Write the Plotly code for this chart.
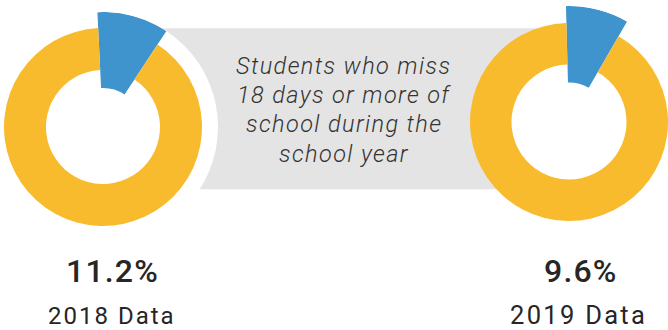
import math
import plotly.graph_objects as go

# ---- data ----
years = ["2018", "2019"]
pct_missing = [11.2, 9.6]
rest_values = [100, 100]
value_labels = ["11.2%", "9.6%"]
year_labels = ["2018 Data", "2019 Data"]
center_lines = ["Students who miss", "18 days or more of",
                "school during the", "school year"]

# ---- style ----
W, H = 668, 330
YELLOW = "#F9BB2E"
BLUE = "#4094CE"
GRAY = "#E4E4E4"
TXT = "#262626"
start_rot = [-2.8, -1.5]  # degrees from 12 o'clock


def px_x(x):
    return x / W


def px_y(y):
    return (H - y) / H


# donut geometry in pixels
donuts = [
    dict(cx=103, cy=127, r=99, rin=57, rb=115, sector=[0, 100]),
    dict(cx=569, cy=122, r=99, rin=57.5, rb=116, sector=[35, 100]),
]
blue_base_frac = 0.34

fig = go.Figure()

for i, d in enumerate(donuts):
    v = pct_missing[i]
    rest = rest_values[i]
    x0 = max(d["cx"] - d["r"], 0)
    x1 = min(d["cx"] + d["r"], W)
    half = (x1 - x0) / 2
    fig.add_trace(go.Pie(
        values=[v, rest],
        labels=[years[i] + " miss", years[i] + " other"],
        marker=dict(colors=["rgba(0,0,0,0)", YELLOW], line=dict(width=0)),
        hole=d["rin"] / half,
        sort=False,
        direction="clockwise",
        rotation=start_rot[i],
        textinfo="none",
        hoverinfo="skip",
        showlegend=False,
        domain=dict(x=[px_x(x0), px_x(x1)],
                    y=[px_y(d["cy"] + half), px_y(d["cy"] - half)]),
    ))
    share = 360.0 * v / (v + rest)
    s0, s1 = d["sector"]
    xmin = min(0, math.cos(math.radians(s1)))
    xmax = max(0, math.cos(math.radians(s0)))
    dom_x = [px_x(d["cx"] + xmin * d["rb"]), px_x(d["cx"] + xmax * d["rb"])]
    dom_y = [px_y(d["cy"]), px_y(d["cy"] - d["rb"])]
    pname = "polar" if i == 0 else "polar2"
    fig.add_trace(go.Barpolar(
        r=[1 - blue_base_frac],
        base=[blue_base_frac],
        theta=[start_rot[i] + share / 2],
        width=[share],
        marker=dict(color=BLUE, line=dict(width=0)),
        hoverinfo="skip",
        showlegend=False,
        subplot=pname,
    ))
    fig.update_layout(**{pname: dict(
        domain=dict(x=dom_x, y=dom_y),
        sector=d["sector"],
        bgcolor="rgba(0,0,0,0)",
        radialaxis=dict(visible=False, range=[0, 1], showgrid=False),
        angularaxis=dict(visible=False, direction="clockwise", rotation=90,
                         showgrid=False),
    )})

shapes = [
    dict(type="rect", xref="paper", yref="paper",
         x0=px_x(120), x1=px_x(569), y0=px_y(189.3), y1=px_y(28.3),
         fillcolor=GRAY, line=dict(width=0), layer="below"),
    dict(type="circle", xref="paper", yref="paper",
         x0=px_x(103 - 115), x1=px_x(103 + 115),
         y0=px_y(127 + 115), y1=px_y(127 - 115),
         fillcolor="white", line=dict(width=0), layer="below"),
    dict(type="circle", xref="paper", yref="paper",
         x0=px_x(569 - 58), x1=px_x(569 + 58),
         y0=px_y(122 + 58), y1=px_y(122 - 58),
         fillcolor="white", line=dict(width=0), layer="below"),
]

annotations = []
mid_size = 23.5
baselines = [74, 103.3, 132.6, 162]
for line, b in zip(center_lines, baselines):
    annotations.append(dict(
        text='<span style="letter-spacing:1.4px">' + line + "</span>",
        x=px_x(344), y=px_y(b - 0.345 * mid_size), xref="paper", yref="paper",
        xanchor="center", yanchor="middle", showarrow=False,
        font=dict(family="Roboto", size=mid_size, style="italic", weight=300,
                  color="#333333")))

val_x = [112, 581]
lab_x = [112, 578]
lab_size = [24, 25.5]
lab_ls = [2, 2.3]
for i in range(2):
    annotations.append(dict(
        text='<span style="letter-spacing:1.2px">' + value_labels[i] + "</span>",
        x=px_x(val_x[i]), y=px_y(271), xref="paper", yref="paper",
        xanchor="center", yanchor="middle", showarrow=False,
        font=dict(family="Roboto", size=32, weight=500, color=TXT)))
    annotations.append(dict(
        text='<span style="letter-spacing:%spx">' % lab_ls[i] + year_labels[i] + "</span>",
        x=px_x(lab_x[i]), y=px_y(324 - 0.345 * lab_size[i]), xref="paper", yref="paper",
        xanchor="center", yanchor="middle", showarrow=False,
        font=dict(family="Roboto", size=lab_size[i], weight=400, color=TXT)))

fig.update_layout(
    width=W, height=H,
    margin=dict(l=0, r=0, t=0, b=0),
    paper_bgcolor="white",
    plot_bgcolor="white",
    shapes=shapes,
    annotations=annotations,
    showlegend=False,
)

fig.write_html("out.html")
